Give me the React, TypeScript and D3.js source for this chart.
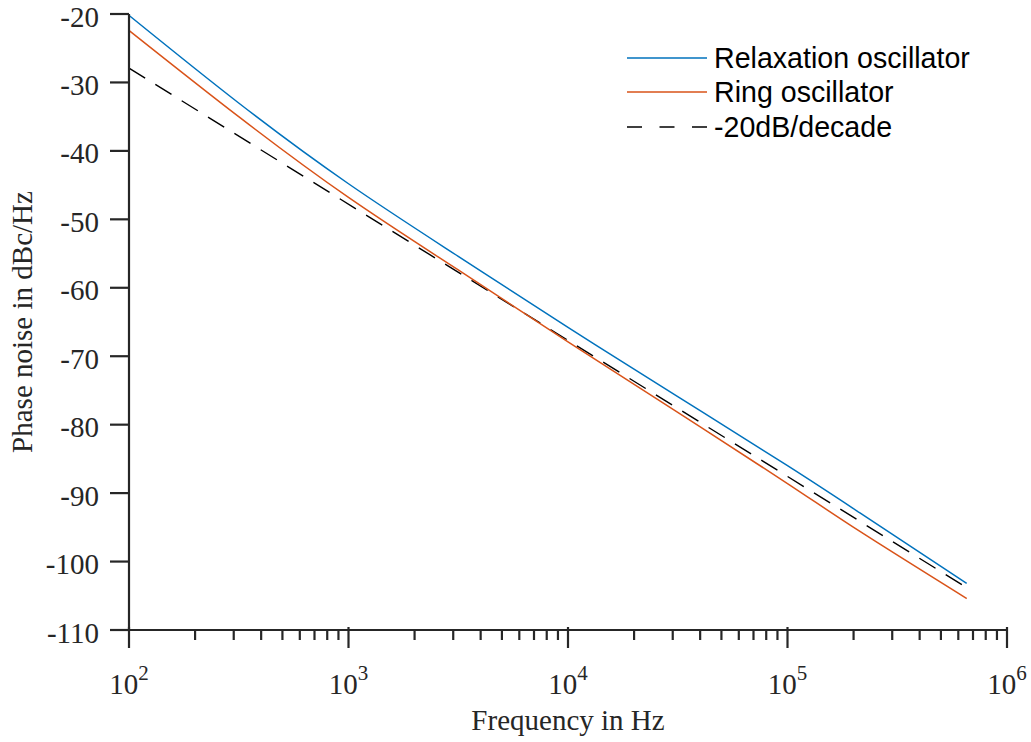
import React from "react";
import * as d3 from "d3";

const freqs = [100, 316, 1000, 3162, 10000, 31623, 100000, 213800, 655000];
const relaxation = [-20.2, -33.0, -44.8, -55.4, -65.8, -75.9, -86.0, -92.9, -103.2];
const ring = [-22.4, -35.0, -46.8, -57.4, -67.9, -78.2, -88.6, -95.6, -105.4];
const refFreqs = [100, 655000];
const refLine = [-27.9, -103.8];
const yTicks = [-20, -30, -40, -50, -60, -70, -80, -90, -100, -110];
const xDecades = [2, 3, 4, 5, 6];
const legendLabels = ["Relaxation oscillator", "Ring oscillator", "-20dB/decade"];

const W = 1031, H = 742;
const L = 129, R = 1007, T = 14, B = 630;
const axisColor = "#262626";
const blue = "#0072BD";
const orange = "#D95319";
const serif = "'Liberation Serif', 'Times New Roman', serif";
const sans = "'Liberation Sans', Arial, sans-serif";

export default function App() {
  const x = d3.scaleLog().domain([100, 1e6]).range([L, R]);
  const y = d3.scaleLinear().domain([-110, -20]).range([B, T]);
  const line = d3
    .line<[number, number]>()
    .x((d) => x(d[0]))
    .y((d) => y(d[1]))
    .curve(d3.curveNatural);
  const pts = (fs: number[], vs: number[]) => fs.map((f, i) => [f, vs[i]] as [number, number]);

  const minor: number[] = [];
  for (let e = 2; e < 6; e++) for (let m = 2; m <= 9; m++) minor.push(m * Math.pow(10, e));

  const legendY = [58, 92, 127];
  const legendStyles = [
    { stroke: blue, dash: undefined as string | undefined },
    { stroke: orange, dash: undefined as string | undefined },
    { stroke: "#000", dash: "15 17.5" },
  ];

  return (
    <svg width={W} height={H} style={{ position: "absolute", left: 0, top: 0, background: "#fff" }}>
      {/* data lines */}
      <path d={line(pts(refFreqs, refLine)) || ""} fill="none" stroke="#000" strokeWidth={1.4} strokeDasharray="19 12" />
      <path d={line(pts(freqs, ring)) || ""} fill="none" stroke={orange} strokeWidth={1.5} />
      <path d={line(pts(freqs, relaxation)) || ""} fill="none" stroke={blue} strokeWidth={1.5} />

      {/* axes */}
      <line x1={L} x2={L} y1={T} y2={B} stroke={axisColor} strokeWidth={2.2} />
      <line x1={L} x2={R} y1={B} y2={B} stroke={axisColor} strokeWidth={2.2} />
      {yTicks.map((t) => (
        <g key={t}>
          <line x1={110} x2={L} y1={y(t)} y2={y(t)} stroke={axisColor} strokeWidth={2.2} />
          <text x={99} y={y(t) + 12.5} textAnchor="end" fontFamily={serif} fontSize={29} fill={axisColor}>
            {t}
          </text>
        </g>
      ))}
      {minor.map((m) => (
        <line key={m} x1={x(m)} x2={x(m)} y1={B} y2={B + 10} stroke={axisColor} strokeWidth={2.2} />
      ))}
      {xDecades.map((e) => {
        const px = x(Math.pow(10, e));
        return (
          <g key={e}>
            <line x1={px} x2={px} y1={B - 3} y2={B + 18} stroke={axisColor} strokeWidth={2.2} />
            <text x={px} y={694} textAnchor="middle" fontFamily={serif} fontSize={29} fill={axisColor}>
              10
              <tspan dy={-14} fontSize={21}>
                {e}
              </tspan>
            </text>
          </g>
        );
      })}

      {/* axis labels */}
      <text x={568} y={730} textAnchor="middle" fontFamily={serif} fontSize={29} fill={axisColor}>
        Frequency in Hz
      </text>
      <text
        transform={`translate(32, ${(T + B) / 2}) rotate(-90)`}
        textAnchor="middle"
        fontFamily={serif}
        fontSize={29}
        fill={axisColor}
      >
        Phase noise in dBc/Hz
      </text>

      {/* legend */}
      {legendLabels.map((lab, i) => (
        <g key={lab}>
          <line
            x1={627}
            x2={707}
            y1={legendY[i]}
            y2={legendY[i]}
            stroke={legendStyles[i].stroke}
            strokeWidth={1.5}
            strokeDasharray={legendStyles[i].dash}
          />
          <text x={714} y={legendY[i] + 10} fontFamily={sans} fontSize={28.6} fill="#000">
            {lab}
          </text>
        </g>
      ))}
    </svg>
  );
}
